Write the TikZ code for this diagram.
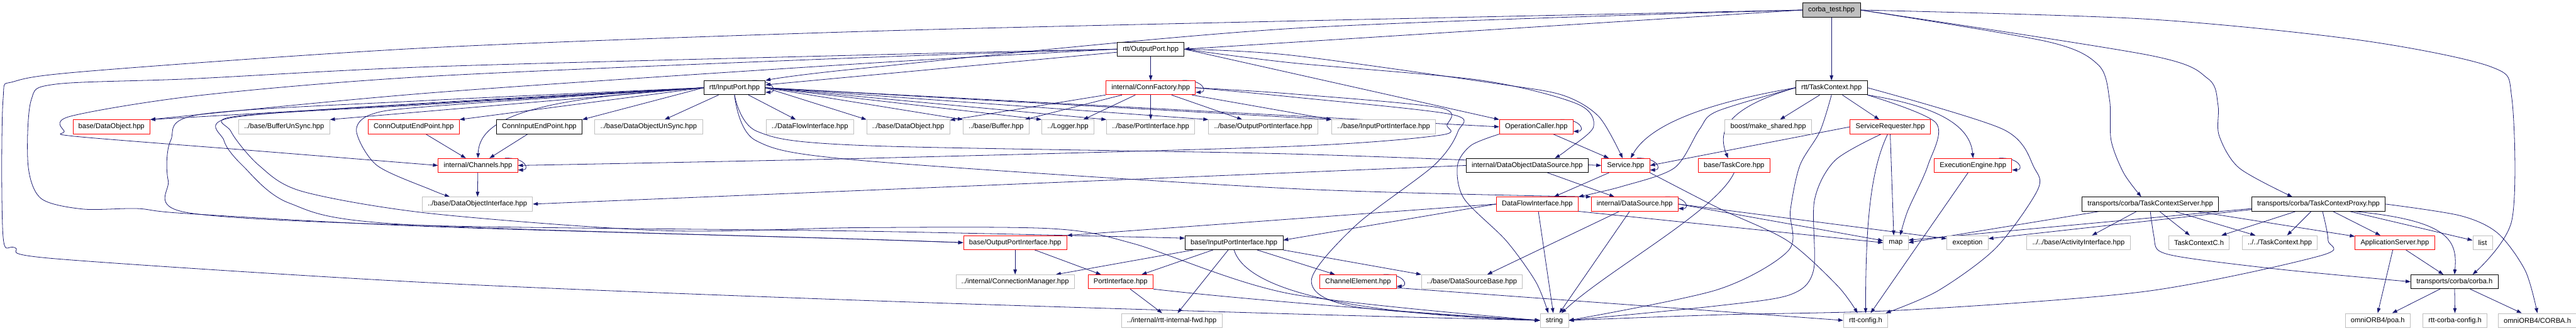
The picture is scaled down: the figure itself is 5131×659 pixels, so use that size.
\documentclass[tikz,border=0pt]{standalone}
\usepackage{fontspec}
\setmainfont{Liberation Sans}
\usetikzlibrary{arrows.meta, backgrounds}
\definecolor{depblue}{RGB}{25,25,112}
\definecolor{cutred}{RGB}{255,0,0}
\definecolor{extgray}{RGB}{191,191,191}
\newcommand{\selfloop}[1]{\draw[dep] ([xshift=-26pt]#1.north east) .. controls ([xshift=16pt,yshift=2pt]#1.north east) and ([xshift=24pt,yshift=-9pt]#1.east) .. ([yshift=-9pt]#1.east);}

\begin{document}
\begin{tikzpicture}[x=1pt,y=-1pt,
  hdr/.style={rectangle, draw, fill=white, line width=1pt, inner xsep=11pt, inner ysep=0pt, minimum height=28pt, font=\fontsize{14}{16}\selectfont},
  docfile/.style={hdr, draw=black},
  cutfile/.style={hdr, draw=cutred},
  extfile/.style={hdr, draw=extgray},
  rootfile/.style={hdr, draw=black, fill=extgray},
  dep/.style={draw=depblue, line width=1pt, -{Triangle[length=10pt,width=7pt]}}]
\useasboundingbox (0,0) rectangle (5131,659);

\node[rootfile] (test) at (3648,20) {corba\_test.hpp};
\node[docfile] (outport) at (2292,98) {rtt/OutputPort.hpp};
\node[docfile] (inport) at (1463,175) {rtt/InputPort.hpp};
\node[cutfile] (connfac) at (2292,175) {internal/ConnFactory.hpp};
\node[docfile] (taskctx) at (3648,175) {rtt/TaskContext.hpp};
\node[cutfile] (dataobj) at (222,253) {base/DataObject.hpp};
\node[extfile] (bufunsync) at (566,253) {../base/BufferUnSync.hpp};
\node[cutfile] (connout) at (824,253) {ConnOutputEndPoint.hpp};
\node[docfile] (connin) at (1074,253) {ConnInputEndPoint.hpp};
\node[extfile] (dataunsync) at (1292,253) {../base/DataObjectUnSync.hpp};
\node[extfile] (dfiface2) at (1613,253) {../DataFlowInterface.hpp};
\node[extfile] (dataobj2) at (1809,253) {../base/DataObject.hpp};
\node[extfile] (buffer2) at (1984,253) {../base/Buffer.hpp};
\node[extfile] (logger2) at (2127,253) {../Logger.hpp};
\node[extfile] (portif2) at (2292,253) {../base/PortInterface.hpp};
\node[extfile] (outif2) at (2516,253) {../base/OutputPortInterface.hpp};
\node[extfile] (inif2) at (2756,253) {../base/InputPortInterface.hpp};
\node[cutfile] (opcaller) at (3060,253) {OperationCaller.hpp};
\node[extfile] (makeshared) at (3522,253) {boost/make\_shared.hpp};
\node[cutfile] (srvreq) at (3765,253) {ServiceRequester.hpp};
\node[cutfile] (channels) at (952,330) {internal/Channels.hpp};
\node[docfile] (dods) at (3042,330) {internal/DataObjectDataSource.hpp};
\node[cutfile] (service) at (3238,330) {Service.hpp};
\node[cutfile] (taskcore) at (3454,330) {base/TaskCore.hpp};
\node[cutfile] (engine) at (3930,330) {ExecutionEngine.hpp};
\node[extfile] (dataobjif) at (951,407) {../base/DataObjectInterface.hpp};
\node[cutfile] (dfiface) at (3062,407) {DataFlowInterface.hpp};
\node[cutfile] (datasource) at (3256,407) {internal/DataSource.hpp};
\node[docfile] (tcserver) at (4283,407) {transports/corba/TaskContextServer.hpp};
\node[docfile] (tcproxy) at (4618,407) {transports/corba/TaskContextProxy.hpp};
\node[cutfile] (outif) at (2022,484) {base/OutputPortInterface.hpp};
\node[docfile] (inif) at (2458,484) {base/InputPortInterface.hpp};
\node[extfile] (map) at (3776,484) {map};
\node[extfile] (exception) at (3919,484) {exception};
\node[extfile] (activity) at (4140,484) {../../base/ActivityInterface.hpp};
\node[extfile] (tcc) at (4380,484) {TaskContextC.h};
\node[extfile] (taskctx2) at (4541,484) {../../TaskContext.hpp};
\node[cutfile] (appserver) at (4770,484) {ApplicationServer.hpp};
\node[extfile] (list) at (4945,484) {list};
\node[extfile] (connmgr) at (2022,562) {../internal/ConnectionManager.hpp};
\node[cutfile] (portif) at (2232,562) {PortInterface.hpp};
\node[cutfile] (chanelem) at (2705,562) {ChannelElement.hpp};
\node[extfile] (dsbase) at (2932,562) {../base/DataSourceBase.hpp};
\node[docfile] (corbah) at (4889,562) {transports/corba/corba.h};
\node[extfile] (fwd) at (2334,639) {../internal/rtt-internal-fwd.hpp};
\node[extfile] (string) at (3096,639) {string};
\node[extfile] (rttconfig) at (3716,639) {rtt-config.h};
\node[extfile] (poa) at (4736,639) {omniORB4/poa.h};
\node[extfile] (corbaconfig) at (4890,639) {rtt-corba-config.h};
\node[extfile] (omnicorba) at (5054,639) {omniORB4/CORBA.h};

\begin{scope}[on background layer]
\draw[dep] (test) -- (taskctx);
\draw[dep] (test.west) -- (outport.east);
\draw[dep] plot[smooth] coordinates {(test.west) (2570,57) (1710,137) (inport.north east)};
\draw[dep] plot[smooth] coordinates {(test.west) (2570,42) (1710,63) (860,95) (200,140) (30,162) (6,200) (6,470) (30,494) (110,516) (860,564) (1715,599) (2570,626) (string.west)};
\draw[dep] plot[smooth] coordinates {(test.east) (4078,83) (4180,130) (4202,200) (4205,280) (4230,345) ([xshift=-18pt]tcserver.north)};
\draw[dep] plot[smooth] coordinates {(test.east) (4280,110) (4398,157) (4418,210) (4420,270) (4460,335) ([xshift=-52pt]tcproxy.north)};
\draw[dep] plot[smooth] coordinates {(test.east) (4275,38) (4700,80) (4961,133) (5003,195) (5003,440) ([xshift=36pt]corbah.north)};

\draw[dep] (outport) -- (connfac);
\draw[dep] (outport) -- (inport);
\draw[dep] plot[smooth] coordinates {(outport.west) (1710,110) (860,133) (384,157) (110,168) (62,200) (56,330) (82,396) (165,417) (274,416) (373,426) (860,452) (1715,477) (outif.west)};
\draw[dep] plot[smooth] coordinates {(outport.west) (1715,115) (860,152) (400,190) (140,232) (128,262) (150,272) (500,300) (channels.west)};
\draw[dep] plot[smooth] coordinates {(outport.west) (1715,127) (860,185) (dataobj.north east)};
\draw[dep] plot[smooth] coordinates {(outport.east) (2570,110) (2982,167) (3113,190) (3185,233) ([xshift=-6pt]service.north)};
\draw[dep] plot[smooth] coordinates {(outport.east) (2570,125) (2949,160) (3141,207) (3174,253) (3120,300) ([xshift=55pt]dods.north)};
\draw[dep] (outport.east) -- (opcaller.north west);

\draw[dep] (inport.west) -- (dataobj.north east);
\draw[dep] (inport.west) -- (bufunsync.north east);
\draw[dep] (inport.west) -- (connout.north east);
\draw[dep] (inport.west) -- (connin.north east);
\draw[dep] (inport) -- (dataunsync);
\draw[dep] (inport) -- (dfiface2);
\draw[dep] (inport.west) .. controls (1100,195) and (955,225) .. (channels.north);
\draw[dep] plot[smooth] coordinates {(inport.west) (860,212) (740,228) (710,262) (751,330) (860,379) ([xshift=-55pt]dataobjif.north)};
\draw[dep] plot[smooth] coordinates {(inport.west) (860,200) (400,228) (340,280) (335,360) (373,424) (860,450) (1715,461) ([yshift=9pt]inif.west)};
\draw[dep] plot[smooth] coordinates {(inport.west) (860,205) (460,235) (446,280) (483,330) (576,405) (795,447) (1715,477) (outif.west)};
\draw[dep] plot[smooth] coordinates {(inport.west) (860,208) (470,232) (460,262) (516,330) (603,382) (860,426) (1321,460) (1715,454) (2094,456) (2258,486) (2570,586) (string.west)};
\draw[dep] (inport.east) -- (dataobj2.north west);
\draw[dep] (inport.east) -- (buffer2.north west);
\draw[dep] (inport.east) -- (logger2.north west);
\draw[dep] (inport.east) -- (portif2.north west);
\draw[dep] (inport.east) -- (outif2.north west);
\draw[dep] (inport.east) -- (inif2.north west);
\draw[dep] (inport.east) -- (opcaller.west);
\draw[dep] plot[smooth] coordinates {(inport.south) (1508,262) (1715,290) (2570,307) (service.west)};
\draw[dep] plot[smooth] coordinates {(inport.south) (1505,280) (1715,320) (2570,376) (datasource.north west)};
\selfloop{inport}

\draw[dep] (connfac) -- (portif2);
\draw[dep] (connfac) -- (dataobj2);
\draw[dep] (connfac) -- (buffer2);
\draw[dep] (connfac) -- (logger2);
\draw[dep] (connfac) -- (outif2);
\draw[dep] (connfac) -- (inif2.north west);
\draw[dep] plot[smooth] coordinates {(connfac.east) (2570,187) (2868,215) (2882,250) (2866,270) (2570,292) (1715,316) (channels.east)};
\draw[dep] plot[smooth] coordinates {(connfac.east) (2570,193) (2890,228) (2904,262) (2856,330) (2700,450) (2612,560) (2700,612) (string.west)};
\selfloop{connfac}

\draw[dep] (connout) -- (channels);
\draw[dep] (connin) -- (channels);
\draw[dep] (channels) -- (dataobjif);
\selfloop{channels}
\draw[dep] (dods.west) -- (dataobjif.east);
\draw[dep] (dods) -- (datasource);

\draw[dep] (opcaller) -- (service);
\draw[dep] plot[smooth] coordinates {(opcaller.south west) (2930,290) (2903,330) (2916,396) (3000,480) (3059,562) ([xshift=-12pt]string.north)};
\selfloop{opcaller}
\draw[dep] (service) -- (dfiface);
\draw[dep] plot[smooth] coordinates {(service.south east) (3425,416) (3560,480) (3660,570) ([xshift=-16pt]rttconfig.north)};
\selfloop{service}

\draw[dep] (taskctx) -- (makeshared);
\draw[dep] (taskctx) -- (srvreq);
\draw[dep] (taskctx.west) .. controls (3440,215) and (3420,260) .. ([xshift=-12pt]taskcore.north);
\draw[dep] (taskctx.west) .. controls (3430,200) and (3290,240) .. ([xshift=10pt]service.north);
\draw[dep] plot[smooth] coordinates {(taskctx.west) (3420,222) (3385,258) (3335,335) (3230,372) (dfiface.north east)};
\draw[dep] plot[smooth] coordinates {(taskctx.south) (3625,262) (3585,330) (3566,420) (3562,500) (3420,578) (string.east)};
\draw[dep] plot[smooth] coordinates {(taskctx.south east) (3856,245) (3840,330) (3800,420) ([xshift=9pt]map.north)};
\draw[dep] (taskctx.south east) .. controls (3880,215) and (3925,260) .. (engine.north);
\draw[dep] plot[smooth] coordinates {(taskctx.east) (3990,258) (4052,335) (4058,380) (3975,495) (3860,580) ([xshift=40pt]rttconfig.north)};

\draw[dep] (srvreq.west) -- (service.east);
\draw[dep] plot[smooth] coordinates {([xshift=-18pt]srvreq.south) (3655,320) (3614,400) (3612,540) (3565,588) (3420,610) (string.east)};
\draw[dep] ([xshift=-5pt]srvreq.south) .. controls (3725,340) and (3716,450) .. (rttconfig.north);
\draw[dep] (srvreq.south) -- ([xshift=-4pt]map.north);
\draw[dep] (taskcore.south) .. controls (3420,420) and (3200,540) .. ([xshift=14pt]string.north);
\draw[dep] ([xshift=-10pt]engine.south) -- ([xshift=10pt]rttconfig.north);
\selfloop{engine}

\draw[dep] (dfiface.west) -- (outif.north east);
\draw[dep] (dfiface.west) -- ([yshift=5pt]inif.east);
\draw[dep] (dfiface) -- (string);
\draw[dep] (dfiface.south east) -- (map.west);
\draw[dep] (datasource) -- (dsbase);
\draw[dep] (datasource) -- (string);
\draw[dep] (datasource.east) -- ([yshift=4pt]map.west);
\draw[dep] (datasource.east) -- ([yshift=8pt]exception.west);
\selfloop{datasource}

\draw[dep] (inif) -- (connmgr);
\draw[dep] (inif) -- (portif);
\draw[dep] (inif) -- (fwd);
\draw[dep] (inif.south) .. controls (2480,570) and (2650,625) .. (string.west);
\draw[dep] (inif) -- (chanelem);
\draw[dep] (inif.south east) -- (dsbase.north west);
\draw[dep] (outif) -- (connmgr);
\draw[dep] (outif) -- (portif);
\draw[dep] (portif) -- (fwd);
\draw[dep] (portif.south east) .. controls (2500,600) and (2900,630) .. (string.west);
\draw[dep] ([yshift=-12pt]chanelem.east) -- (rttconfig.west);
\selfloop{chanelem}

\draw[dep] ([xshift=36pt]tcserver.south west) -- (map.east);
\draw[dep] (tcserver) -- (activity);
\draw[dep] (tcserver) -- (tcc);
\draw[dep] (tcserver) -- (taskctx2);
\draw[dep] (tcserver) -- (appserver);
\draw[dep] plot[smooth] coordinates {(tcserver.south) (4290,470) (4300,500) (4360,515) (4549,538) (corbah.west)};

\draw[dep] ([yshift=-9pt]tcproxy.west) -- ([yshift=5pt]map.east);
\draw[dep] ([yshift=-11pt]tcproxy.west) -- ([yshift=8pt]exception.east);
\draw[dep] (tcproxy) -- (tcc);
\draw[dep] (tcproxy) -- (taskctx2);
\draw[dep] (tcproxy) -- (appserver);
\draw[dep] (tcproxy) -- (list);
\draw[dep] ([xshift=70pt]tcproxy.south) .. controls (4880,440) and (4895,480) .. (corbah.north);
\draw[dep] plot[smooth] coordinates {(tcproxy.east) (4900,430) (4975,465) (5030,540) (omnicorba.north)};
\draw[dep] plot[smooth] coordinates {([xshift=8pt]tcproxy.south) (4637,479) (4622,510) (4275,581) (3800,618) (3420,628) (string.east)};

\draw[dep] ([xshift=-4pt]appserver.south) -- (poa.north);
\draw[dep] (appserver) -- (corbah);
\draw[dep] (corbah) -- (poa);
\draw[dep] (corbah) -- (corbaconfig);
\draw[dep] (corbah) -- (omnicorba);
\end{scope}
\end{tikzpicture}
\end{document}
